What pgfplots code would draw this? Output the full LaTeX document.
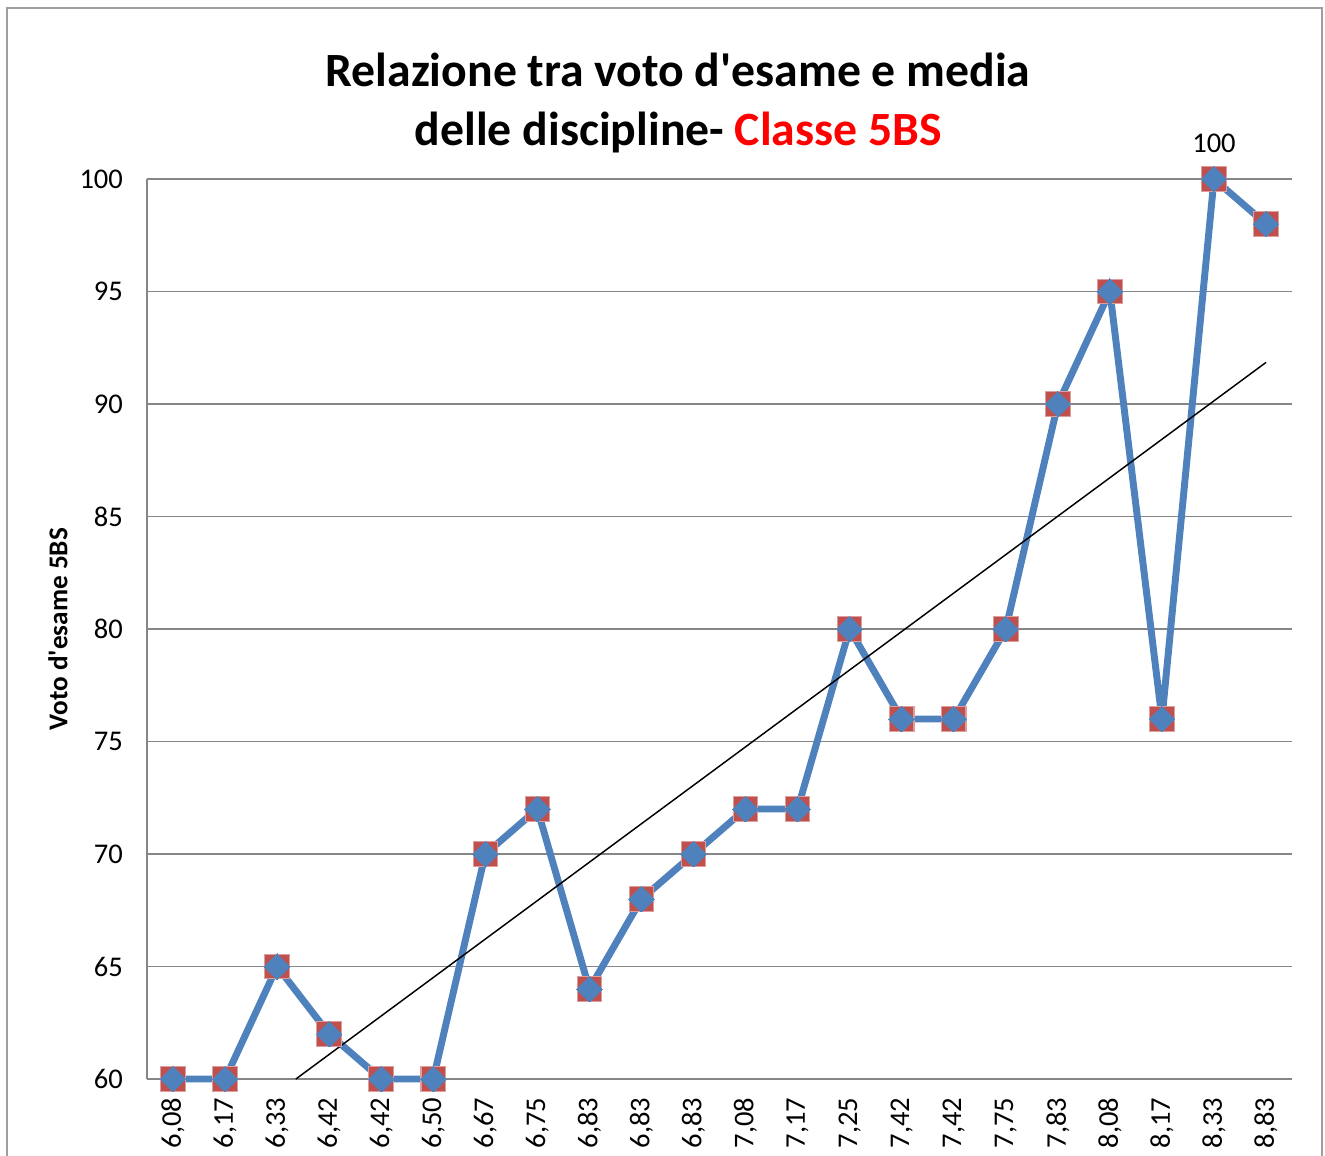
\documentclass[border=0pt]{standalone}
\usepackage{pgfplots}
\pgfplotsset{compat=1.18}
\usepackage{fontspec}
\setmainfont{Carlito}[Ligatures=TeXOff]
\definecolor{xblue}{HTML}{4F81BD}
\definecolor{xred}{HTML}{C0504D}
\definecolor{xgrid}{HTML}{868686}
\begin{document}
\begin{tikzpicture}
\useasboundingbox (0pt,0pt) rectangle (496.875pt,-433.125pt);
\draw[xgrid!80, line width=0.6pt] (2.6pt,-3pt) rectangle (495.8pt,-445pt);
\node[anchor=base, font=\bfseries\fontsize{17.9}{20}\selectfont] at (254.25pt,-32.6pt) {Relazione tra voto d'esame e media};
\node[anchor=base, font=\bfseries\fontsize{17.9}{20}\selectfont] at (254.4pt,-54.4pt) {delle discipline- {\color{red}Classe 5BS}};
\node[rotate=90, font=\bfseries\fontsize{10.2}{12}\selectfont] at (21.75pt,-235.9pt) {Voto d'esame 5BS};
\begin{axis}[at={(55.125pt,-404.625pt)}, anchor=south west, scale only axis,
  width=429.4pt, height=337.5pt,
  xmin=-0.5, xmax=21.5, ymin=60, ymax=100,
  ytick={60,65,...,100},
  xtick={0,...,21},
  xticklabels={{6,08},{6,17},{6,33},{6,42},{6,42},{6,50},{6,67},{6,75},{6,83},{6,83},{6,83},{7,08},{7,17},{7,25},{7,42},{7,42},{7,75},{7,83},{8,08},{8,17},{8,33},{8,83}},
  ymajorgrids, grid style={xgrid, line width=0.7pt},
  axis x line*=bottom, axis y line*=left,
  axis line style={-, xgrid, line width=0.7pt},
  major tick length=0pt,
  tick label style={font=\fontsize{10.7}{12}\selectfont},
  xticklabel style={rotate=90, anchor=east, xshift=-3.5pt},
  yticklabel style={xshift=-5.5pt},
  /pgf/number format/assume math mode=true,
  clip=false]
\addplot[draw=none, mark=square*, mark size=4.6pt, mark options={fill=xred, draw=xred!55, line width=0.4pt}] coordinates {
(0,60) (1,60) (2,65) (3,62) (4,60) (5,60) (6,70) (7,72) (8,64) (9,68) (10,70) (11,72) (12,72) (13,80) (14,76) (15,76) (16,80) (17,90) (18,95) (19,76) (20,100) (21,98)};
\addplot[xblue, line width=2.6pt, line join=round, mark=square*, mark size=3.4pt, mark options={rotate=45, fill=xblue, draw=xblue, line width=0pt}] coordinates {
(0,60) (1,60) (2,65) (3,62) (4,60) (5,60) (6,70) (7,72) (8,64) (9,68) (10,70) (11,72) (12,72) (13,80) (14,76) (15,76) (16,80) (17,90) (18,95) (19,76) (20,100) (21,98)};
\addplot[black, line width=0.55pt] coordinates {(2.36,60) (21,91.85)};
\node[anchor=base, font=\fontsize{10.7}{12}\selectfont, yshift=10.1pt] at (axis cs:20,100) {100};
\end{axis}
\end{tikzpicture}
\end{document}
